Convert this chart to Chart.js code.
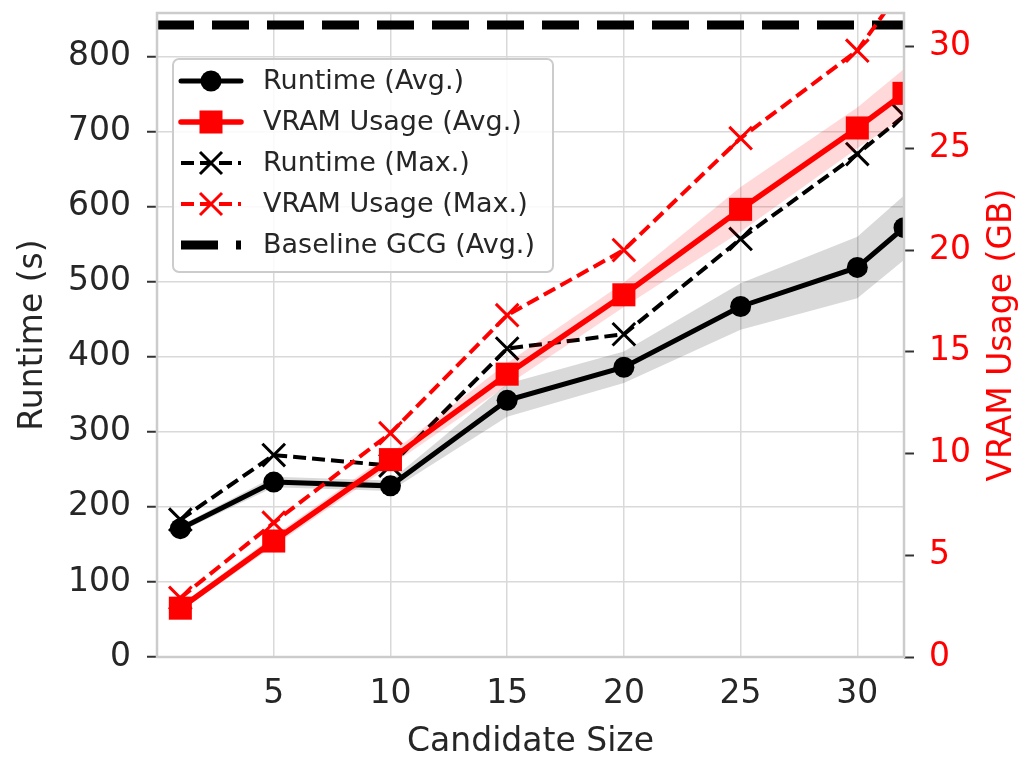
<!DOCTYPE html>
<html>
<head>
<meta charset="utf-8">
<script src="https://cdn.jsdelivr.net/npm/chart.js@4.4.0/dist/chart.umd.min.js"></script>
<style>
  html, body { margin: 0; padding: 0; background: #fff; }
</style>
</head>
<body>
<canvas id="chart" width="1023" height="759"></canvas>
<script>
// candidate sizes on the x axis
const sizes = [1, 5, 10, 15, 20, 25, 30, 32];

// runtime in seconds (left axis)
const runtimeAvg = [171, 233, 228, 342, 386, 467, 519, 572];
const runtimeMax = [183, 269, 255, 411, 430, 557, 670, 721];
const runtimeStd = [4, 7, 7, 22, 21, 31, 41, 43];

// VRAM in GB (right axis)
const vramAvg = [2.4, 5.7, 9.7, 13.9, 17.8, 22.0, 26.0, 27.7];
const vramMax = [2.9, 6.6, 11.0, 16.8, 20.0, 25.5, 29.8, 33.0];
const vramStd = [0.15, 0.25, 0.3, 0.55, 0.6, 1.1, 1.0, 1.2];

// baseline GCG average runtime
const baselineRuntime = 842;

const xTicks = [5, 10, 15, 20, 25, 30];
const runtimeTicks = [0, 100, 200, 300, 400, 500, 600, 700, 800];
const vramTicks = [0, 5, 10, 15, 20, 25, 30];

const FONT = "'DejaVu Sans', sans-serif";
const TEXT = '#262626';
const RED = '#ff0000';
const GRID = '#d9d9d9';
const AXIS_PX = 33;
Chart.defaults.font.family = FONT;

function pts(ys) {
  return sizes.map((x, i) => ({ x: x, y: ys[i] }));
}
function band(ys, sd, sign) {
  return sizes.map((x, i) => ({ x: x, y: ys[i] + sign * sd[i] }));
}
function setTicks(values) {
  return function (scale) {
    scale.ticks = values.map(v => ({ value: v }));
  };
}
// fixed box size, no extra room for the end labels
function fixWidth(w) {
  return function (s) { s.width = w; s.paddingTop = 0; s.paddingBottom = 0; };
}

const legendItems = [
  { label: 'Runtime (Avg.)', color: '#000', width: 5, dash: [], marker: 'circle' },
  { label: 'VRAM Usage (Avg.)', color: RED, width: 5.5, dash: [], marker: 'rect' },
  { label: 'Runtime (Max.)', color: '#000', width: 4, dash: [13, 6], marker: 'cross' },
  { label: 'VRAM Usage (Max.)', color: RED, width: 4, dash: [13, 6], marker: 'cross' },
  { label: 'Baseline GCG (Avg.)', color: '#000', width: 9, dash: [37, 18], marker: null }
];

// frame, right-hand axis title and the legend box
const decorations = {
  id: 'decorations',
  afterDatasetsDraw(chart) {
    const ctx = chart.ctx;
    const a = chart.chartArea;
    ctx.save();
    ctx.strokeStyle = '#cccccc';
    ctx.lineWidth = 2.5;
    ctx.strokeRect(a.left, a.top, a.right - a.left, a.bottom - a.top);
    ctx.restore();
  },
  afterDraw(chart) {
    const ctx = chart.ctx;
    const a = chart.chartArea;

    ctx.save();
    ctx.translate(1002, (a.top + a.bottom) / 2);
    ctx.rotate(-Math.PI / 2);
    ctx.fillStyle = RED;
    ctx.font = AXIS_PX + 'px ' + FONT;
    ctx.textAlign = 'center';
    ctx.textBaseline = 'middle';
    ctx.fillText('VRAM Usage (GB)', 0, 0);
    ctx.restore();

    const bx = a.left + 16, by = 59, bw = 380, bh = 213;
    ctx.save();
    ctx.beginPath();
    ctx.roundRect(bx, by, bw, bh, 6);
    ctx.fillStyle = 'rgba(255,255,255,0.85)';
    ctx.fill();
    ctx.strokeStyle = '#cccccc';
    ctx.lineWidth = 2;
    ctx.stroke();

    legendItems.forEach((it, i) => {
      const y = 81 + i * 41;
      const x0 = bx + 8, x1 = bx + 68, xm = (x0 + x1) / 2;
      ctx.beginPath();
      ctx.setLineDash(it.dash);
      ctx.lineCap = it.dash.length ? 'butt' : 'round';
      ctx.strokeStyle = it.color;
      ctx.lineWidth = it.width;
      ctx.moveTo(x0, y);
      ctx.lineTo(x1, y);
      ctx.stroke();
      ctx.setLineDash([]);
      ctx.fillStyle = it.color;
      if (it.marker === 'circle') {
        ctx.beginPath();
        ctx.arc(xm, y, 10.5, 0, Math.PI * 2);
        ctx.fill();
      } else if (it.marker === 'rect') {
        ctx.fillRect(xm - 11.5, y - 11.5, 23, 23);
      } else if (it.marker === 'cross') {
        ctx.beginPath();
        ctx.lineCap = 'butt';
        ctx.lineWidth = 3;
        ctx.moveTo(xm - 11, y - 11); ctx.lineTo(xm + 11, y + 11);
        ctx.moveTo(xm - 11, y + 11); ctx.lineTo(xm + 11, y - 11);
        ctx.stroke();
      }
      ctx.fillStyle = TEXT;
      ctx.font = '27px ' + FONT;
      ctx.textAlign = 'left';
      ctx.textBaseline = 'middle';
      ctx.fillText(it.label, bx + 90, y + 1);
    });
    ctx.restore();
  }
};

const ctx = document.getElementById('chart').getContext('2d');
new Chart(ctx, {
  type: 'line',
  data: {
    datasets: [
      {
        label: 'Baseline GCG (Avg.)',
        data: [{ x: 0, y: baselineRuntime }, { x: 32, y: baselineRuntime }],
        yAxisID: 'y', borderColor: '#000', borderWidth: 9, borderDash: [37, 18],
        pointRadius: 0, order: 7, clip: 0
      },
      {
        label: 'runtime-lo', data: band(runtimeAvg, runtimeStd, -1), yAxisID: 'y',
        borderWidth: 0, pointRadius: 0, fill: false, order: 8, clip: 0
      },
      {
        label: 'runtime-hi', data: band(runtimeAvg, runtimeStd, 1), yAxisID: 'y',
        borderWidth: 0, pointRadius: 0, fill: '-1', backgroundColor: 'rgba(0,0,0,0.15)',
        order: 8, clip: 0
      },
      {
        label: 'Runtime (Avg.)', data: pts(runtimeAvg), yAxisID: 'y',
        borderColor: '#000', backgroundColor: '#000', borderWidth: 5,
        pointStyle: 'circle', pointRadius: 10.5, pointBorderWidth: 0, order: 6, clip: 0
      },
      {
        label: 'Runtime (Max.)', data: pts(runtimeMax), yAxisID: 'y',
        borderColor: '#000', backgroundColor: '#000', borderWidth: 4, borderDash: [13, 6],
        pointStyle: 'crossRot', pointRadius: 16, pointBorderWidth: 3, order: 5, clip: 0
      },
      {
        label: 'vram-lo', data: band(vramAvg, vramStd, -1), yAxisID: 'y2',
        borderWidth: 0, pointRadius: 0, fill: false, order: 4, clip: 0
      },
      {
        label: 'vram-hi', data: band(vramAvg, vramStd, 1), yAxisID: 'y2',
        borderWidth: 0, pointRadius: 0, fill: '-1', backgroundColor: 'rgba(255,0,0,0.15)',
        order: 4, clip: 0
      },
      {
        label: 'VRAM Usage (Avg.)', data: pts(vramAvg), yAxisID: 'y2',
        borderColor: RED, backgroundColor: RED, borderWidth: 5.5,
        pointStyle: 'rect', pointRadius: 16.3, pointBorderWidth: 0, order: 2, clip: 0
      },
      {
        label: 'VRAM Usage (Max.)', data: pts(vramMax), yAxisID: 'y2',
        borderColor: RED, backgroundColor: RED, borderWidth: 4, borderDash: [13, 6],
        pointStyle: 'crossRot', pointRadius: 16, pointBorderWidth: 3, order: 1, clip: 0
      }
    ]
  },
  options: {
    responsive: false,
    animation: false,
    devicePixelRatio: 1,
    layout: { autoPadding: false, padding: { top: 13, left: 0, right: 0, bottom: 0 } },
    plugins: {
      legend: { display: false },
      tooltip: { enabled: false }
    },
    elements: { line: { tension: 0 } },
    scales: {
      x: {
        type: 'linear', min: 0, max: 32,
        afterBuildTicks: setTicks(xTicks),
        afterFit: (s) => { s.height = 102; s.paddingLeft = 0; s.paddingRight = 0; },
        grid: { color: GRID, lineWidth: 1.5, drawTicks: false },
        border: { display: false },
        ticks: { color: TEXT, font: { size: AXIS_PX }, padding: 18, maxRotation: 0 },
        title: {
          display: true, text: 'Candidate Size', color: TEXT,
          font: { size: AXIS_PX, lineHeight: 1 }, padding: { top: 0, bottom: 0 }
        }
      },
      y: {
        type: 'linear', position: 'left', min: 0, max: 858,
        afterBuildTicks: setTicks(runtimeTicks),
        afterFit: fixWidth(157),
        grid: { color: GRID, lineWidth: 1.5, tickColor: '#333', tickLength: 10, tickWidth: 2 },
        border: { display: false },
        ticks: { color: TEXT, font: { size: AXIS_PX }, padding: 16 },
        title: {
          display: true, text: 'Runtime (s)', color: TEXT,
          font: { size: AXIS_PX, lineHeight: 1 }, padding: { top: 17, bottom: 0 }
        }
      },
      y2: {
        type: 'linear', position: 'right', min: 0, max: 31.65,
        afterBuildTicks: setTicks(vramTicks),
        afterFit: fixWidth(119),
        grid: { drawOnChartArea: false, tickColor: '#333', tickLength: 10, tickWidth: 2 },
        border: { display: false },
        ticks: { color: RED, font: { size: AXIS_PX }, padding: 15 }
      }
    }
  },
  plugins: [decorations]
});
</script>
</body>
</html>
